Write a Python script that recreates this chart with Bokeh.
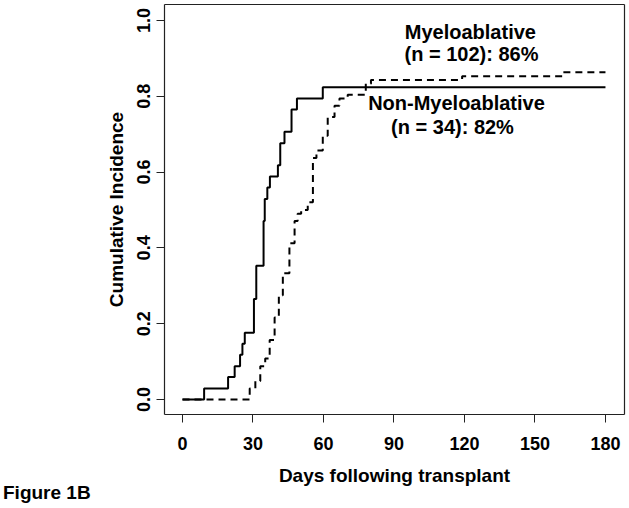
from bokeh.plotting import figure
from bokeh.models import Range1d, FixedTicker, Label, CustomJSTickFormatter, LinearAxis, Div
from bokeh.layouts import column
from bokeh.embed import file_html
from bokeh.resources import INLINE

# Myeloablative (n = 102), dashed curve: event days and cumulative incidence
days_ma = [0, 28.6, 31.0, 33.1, 35.2, 37.1, 39.2, 41.0, 42.7, 45.5, 47.7, 49.0,
           50.5, 53.3, 55.5, 57.0, 59.7, 61.8, 64.7, 66.8, 70.3, 78.0, 80.2,
           119.0, 162.0, 180.0]
ci_ma = [0.0, 0.029, 0.049, 0.088, 0.108, 0.157, 0.216, 0.275, 0.333, 0.412,
         0.471, 0.490, 0.500, 0.520, 0.637, 0.657, 0.696, 0.745, 0.775, 0.794,
         0.804, 0.833, 0.843, 0.853, 0.863, 0.863]

# Non-Myeloablative (n = 34), solid curve
days_nma = [0, 9.2, 19.4, 22.2, 24.5, 25.5, 26.5, 30.4, 31.4, 34.5, 35.0, 36.1,
            37.2, 40.6, 41.6, 43.4, 46.4, 48.7, 59.7, 180.0]
ci_nma = [0.0, 0.029, 0.059, 0.088, 0.118, 0.147, 0.176, 0.265, 0.353, 0.471,
          0.529, 0.559, 0.588, 0.618, 0.676, 0.706, 0.765, 0.794, 0.824, 0.824]

x_ticks = [0, 30, 60, 90, 120, 150, 180]
y_ticks = [0.0, 0.2, 0.4, 0.6, 0.8, 1.0]

x_title = "Days following transplant"
y_title = "Cumulative Incidence"
ma_label = ["Myeloablative", "(n = 102): 86%"]
nma_label = ["Non-Myeloablative", "(n = 34): 82%"]
fig_caption = "Figure 1B"

FONT = "Liberation Sans"

p = figure(width=627, height=490, output_backend="svg", toolbar_location=None,
           x_range=Range1d(-7.66, 188.1), y_range=Range1d(-0.0396, 1.042),
           min_border_left=164, min_border_right=3, min_border_top=4,
           min_border_bottom=76)

p.background_fill_color = "white"
p.border_fill_color = "white"
p.outline_line_color = None
p.grid.visible = False

p.step(days_nma, ci_nma, mode="after", line_color="black", line_width=2)
p.step(days_ma, ci_ma, mode="after", line_color="black", line_width=2,
       line_dash="7 5")

xax = p.xaxis[0]
yax = p.yaxis[0]

for ax in (xax, yax):
    ax.axis_line_color = "#222222"
    ax.axis_line_width = 1.2
    ax.major_tick_line_color = "#222222"
    ax.major_tick_line_width = 1
    ax.major_tick_in = 0
    ax.major_tick_out = 8
    ax.minor_tick_line_color = None
    ax.major_label_text_font = FONT
    ax.major_label_text_font_style = "bold"
    ax.major_label_text_font_size = "18px"
    ax.major_label_text_color = "black"
    ax.axis_label_text_font = FONT
    ax.axis_label_text_font_style = "bold"
    ax.axis_label_text_font_size = "19px"
    ax.axis_label_text_color = "black"

xax.ticker = FixedTicker(ticks=x_ticks)
yax.ticker = FixedTicker(ticks=y_ticks)
yax.formatter = CustomJSTickFormatter(code="return tick.toFixed(1);")
xax.axis_label = x_title
yax.axis_label = y_title
xax.major_label_standoff = 14
xax.axis_label_standoff = 12
yax.major_label_orientation = "vertical"
yax.major_label_standoff = 6
yax.axis_label_standoff = 8

# box sides (top and right) drawn as bare axes
for side in ("above", "right"):
    bare = LinearAxis(ticker=FixedTicker(ticks=[]), axis_line_color="#222222",
                      axis_line_width=1.2, major_tick_out=0, major_tick_in=0,
                      minor_tick_out=0, minor_tick_in=0, minor_tick_line_color=None,
                      major_tick_line_color=None, major_label_standoff=0)
    p.add_layout(bare, side)

def add_text(x, y, txt, size="20px"):
    p.add_layout(Label(x=x, y=y, text=txt, text_align="center",
                       text_baseline="middle", text_font=FONT,
                       text_font_style="bold", text_font_size=size,
                       text_color="black"))

add_text(122.5, 0.969, ma_label[0])
add_text(123.0, 0.911, ma_label[1])
add_text(116.6, 0.782, nma_label[0])
add_text(114.9, 0.718, nma_label[1])

caption = Div(text=fig_caption, width=120, height=22,
              styles={"font-family": FONT, "font-weight": "bold",
                      "font-size": "19px", "color": "black",
                      "margin-left": "3px", "margin-top": "-8px",
                      "line-height": "22px"})

layout = column(p, caption, spacing=0)

open("out.html", "w").write(file_html(layout, INLINE))
